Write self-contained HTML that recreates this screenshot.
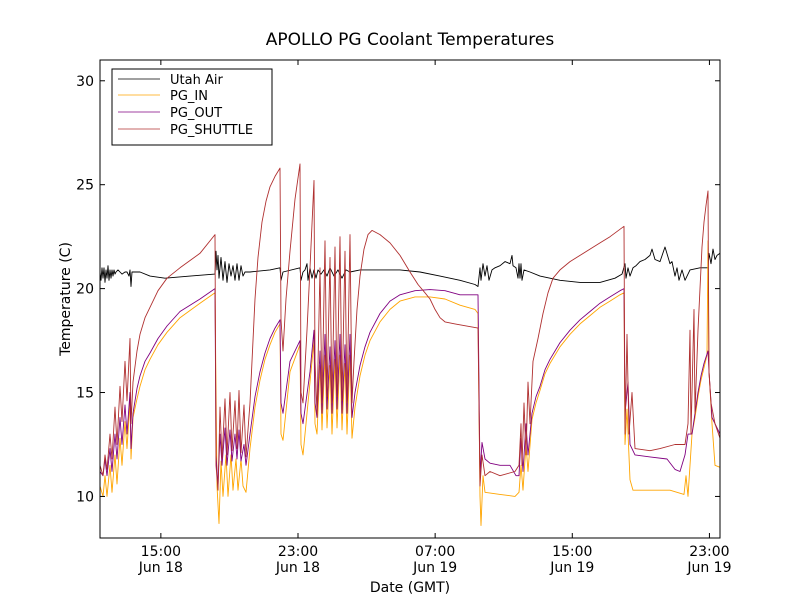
<!DOCTYPE html>
<html><head><meta charset="utf-8"><style>
body{margin:0;background:#fff;}
svg{display:block;font-family:"DejaVu Sans","Liberation Sans",sans-serif;}
</style></head><body>
<svg id="chart" width="800" height="600" viewBox="0 0 800 600">
<rect x="0" y="0" width="800" height="600" fill="#fff"/>
<text x="410" y="45" font-size="17" text-anchor="middle">APOLLO PG Coolant Temperatures</text>
<text x="410" y="592" font-size="14" text-anchor="middle">Date (GMT)</text>
<text transform="translate(70,299) rotate(-90)" font-size="14" text-anchor="middle">Temperature (C)</text>
<g id="series"></g>
<g id="axes"></g>
<g>
<rect x="112" y="69" width="160" height="76" fill="#fff" stroke="#000" stroke-width="1"/>
<line x1="118" y1="79" x2="160" y2="79" stroke="#000" stroke-width="0.8"/>
<text x="170" y="84" font-size="13">Utah Air</text>
<line x1="118" y1="95" x2="160" y2="95" stroke="#ffa500" stroke-width="0.8"/>
<text x="170" y="100" font-size="13">PG_IN</text>
<line x1="118" y1="112" x2="160" y2="112" stroke="#800080" stroke-width="0.8"/>
<text x="170" y="117" font-size="13">PG_OUT</text>
<line x1="118" y1="129" x2="160" y2="129" stroke="#b03030" stroke-width="0.8"/>
<text x="170" y="134" font-size="13">PG_SHUTTLE</text>
</g>
</svg>
<script>
// time in samples (1 sample = 3.5 minutes since 11:27 Jun 18)
const SAMPLE_MIN = 3.5;
const xTickMinutes = [213, 693, 1173, 1653, 2133];
const xTickTimes = ["15:00", "23:00", "07:00", "15:00", "23:00"];
const xTickDays = ["Jun 18", "Jun 18", "Jun 19", "Jun 19", "Jun 19"];
const yTicks = [10, 15, 20, 25, 30];
const utahAir = [[0,20.8],[1,20.4],[2,21.0],[3,20.5],[4,21.0],[5,20.3],[6,20.9],[7,20.5],[8,21.1],[9,20.4],[10,20.9],[11,20.5],[12,20.9],[13,20.6],[14,20.9],[15,20.7],[16,20.8],[18,20.9],[20,20.8],[22,20.7],[25,20.8],[27,20.8],[29,20.6],[30,20.9],[31,20.1],[32,20.8],[35,20.8],[40,20.8],[50,20.6],[65,20.5],[90,20.6],[115,20.7],[116,21.8],[117,20.9],[118,21.6],[119,20.5],[121,21.5],[123,20.4],[125,21.3],[127,20.3],[129,21.2],[131,20.6],[133,21.1],[135,20.4],[137,21.2],[139,20.4],[141,21.1],[143,20.6],[145,20.8],[150,20.8],[170,20.9],[180,21.0],[181,20.4],[183,20.8],[200,21.0],[201,20.4],[203,20.8],[205,20.9],[207,21.2],[208,20.4],[210,21.0],[212,20.5],[214,20.9],[216,20.5],[218,20.9],[221,20.7],[224,20.9],[227,20.6],[230,21.0],[234,20.6],[238,20.9],[242,20.5],[246,20.9],[250,20.8],[260,20.9],[280,20.9],[300,20.9],[320,20.8],[340,20.6],[360,20.4],[375,20.2],[378,20.1],[380,21.0],[381,20.4],[383,21.2],[385,20.6],[387,21.1],[389,20.4],[392,20.9],[395,21.0],[400,21.1],[405,21.3],[410,21.2],[412,21.6],[413,21.1],[416,21.0],[418,20.5],[419,21.2],[420,20.5],[421,21.2],[422,20.4],[424,20.9],[430,20.8],[440,20.6],[460,20.4],[480,20.3],[500,20.3],[515,20.5],[522,20.7],[525,21.2],[526,20.5],[528,21.0],[530,20.6],[533,21.0],[536,21.1],[540,21.3],[545,21.4],[550,21.6],[552,21.9],[555,21.4],[560,21.3],[565,22.0],[570,21.2],[572,21.3],[575,20.6],[577,21.0],[579,20.4],[582,20.9],[585,20.4],[590,20.9],[600,21.0],[608,21.0],[609,21.7],[611,21.2],[613,21.9],[615,21.4],[617,21.6],[620,21.7]];
const pgIn = [[0,10.5],[3,10.0],[5,11.0],[7,10.0],[10,11.5],[12,10.2],[15,12.0],[17,10.6],[20,12.8],[22,11.5],[25,13.6],[27,12.3],[30,14.6],[31,11.8],[33,13.8],[37,14.7],[40,15.3],[45,16.1],[50,16.6],[58,17.3],[67,17.9],[80,18.6],[100,19.3],[115,19.8],[117,10.5],[119,8.7],[121,11.7],[123,10.0],[126,12.0],[128,10.0],[131,12.0],[133,10.3],[136,11.8],[138,10.3],[141,11.8],[143,10.5],[146,10.2],[150,12.3],[155,14.3],[160,15.6],[165,16.6],[170,17.3],[175,17.9],[180,18.3],[181,13.0],[183,12.7],[190,16.0],[200,17.3],[201,12.5],[203,12.0],[210,15.5],[214,17.5],[215,13.5],[217,13.0],[220,16.3],[222,13.2],[225,16.8],[227,13.3],[230,16.3],[232,13.0],[235,16.6],[237,13.3],[240,16.8],[242,13.2],[245,16.4],[247,13.0],[250,16.8],[252,12.8],[255,14.3],[260,15.8],[265,16.8],[270,17.5],[280,18.4],[290,19.0],[300,19.4],[315,19.6],[330,19.6],[345,19.5],[360,19.2],[375,19.0],[378,18.8],[380,10.0],[381,8.6],[383,11.0],[385,10.2],[400,10.1],[415,10.0],[419,10.2],[421,11.5],[423,10.3],[426,12.5],[428,11.2],[432,13.7],[436,14.5],[440,15.1],[445,15.9],[450,16.4],[455,16.8],[460,17.2],[470,17.8],[480,18.3],[490,18.7],[500,19.1],[510,19.4],[520,19.7],[524,19.8],[525,12.5],[527,14.2],[530,10.8],[533,10.3],[550,10.3],[570,10.3],[584,10.1],[586,11.0],[588,10.0],[592,13.0],[595,13.8],[598,14.8],[601,15.6],[604,16.2],[607,16.8],[608,22.3],[609,16.0],[612,13.5],[615,11.5],[620,11.4]];
const pgOut = [[0,11.2],[3,11.0],[5,11.8],[7,11.0],[10,12.3],[12,11.2],[15,13.0],[17,11.8],[20,13.8],[22,12.5],[25,14.4],[27,13.0],[30,15.0],[31,12.3],[33,14.0],[37,15.2],[40,15.8],[45,16.5],[50,16.9],[58,17.6],[67,18.2],[80,18.9],[100,19.5],[115,20.0],[116,12.0],[118,10.5],[120,13.0],[122,11.5],[125,13.3],[127,11.5],[130,13.2],[132,11.7],[135,13.0],[137,11.8],[139,13.2],[141,11.7],[144,12.5],[146,11.5],[150,13.0],[155,14.8],[160,16.0],[165,16.9],[170,17.6],[175,18.1],[180,18.5],[181,14.5],[183,14.0],[190,16.5],[200,17.5],[201,14.0],[203,13.5],[210,16.0],[214,18.0],[215,14.5],[217,13.8],[220,17.0],[222,14.0],[225,17.8],[227,14.2],[230,17.2],[232,14.0],[235,17.5],[237,14.2],[240,17.8],[242,14.0],[245,17.3],[247,14.0],[250,17.8],[252,13.8],[255,15.0],[260,16.3],[265,17.2],[270,17.9],[280,18.8],[290,19.4],[300,19.7],[315,19.9],[330,19.95],[345,19.9],[360,19.7],[378,19.7],[380,11.0],[382,12.6],[385,11.8],[390,11.6],[400,11.5],[410,11.5],[416,11.0],[419,11.0],[421,12.8],[423,11.2],[426,13.5],[428,12.0],[432,14.0],[436,14.8],[440,15.3],[445,16.1],[450,16.6],[455,17.0],[460,17.4],[470,18.0],[480,18.5],[490,18.9],[500,19.3],[510,19.6],[520,19.9],[524,20.0],[525,14.0],[528,15.5],[530,12.5],[535,12.0],[550,11.9],[567,11.8],[575,11.3],[580,11.2],[585,12.0],[588,13.0],[592,13.0],[595,14.0],[598,15.0],[601,15.8],[604,16.4],[608,17.0],[609,16.0],[612,13.8],[620,13.0]];
const pgShuttle = [[0,11.5],[3,11.0],[5,12.0],[7,11.3],[10,13.0],[12,11.8],[15,14.3],[17,12.5],[20,15.3],[22,13.6],[25,16.5],[27,14.6],[30,17.6],[31,13.5],[33,15.5],[37,17.0],[40,17.8],[45,18.6],[50,19.1],[58,19.9],[67,20.5],[80,21.0],[100,21.7],[115,22.6],[116,11.5],[118,10.3],[120,14.3],[122,11.8],[125,14.7],[127,12.0],[130,15.0],[132,12.2],[135,14.6],[137,12.3],[139,15.1],[141,12.1],[144,14.4],[146,11.9],[150,14.5],[152,16.5],[155,19.5],[158,21.5],[162,23.2],[166,24.2],[170,24.9],[175,25.4],[180,25.8],[181,18.5],[183,17.0],[186,19.5],[190,21.8],[195,24.3],[200,26.0],[201,15.0],[203,14.5],[207,18.0],[210,21.0],[214,25.2],[215,16.5],[217,14.0],[220,21.0],[222,14.5],[225,22.3],[227,14.8],[230,21.5],[232,14.5],[235,22.0],[237,14.8],[240,22.5],[242,14.6],[245,21.8],[247,14.5],[250,22.6],[252,14.5],[254,16.5],[257,19.0],[260,20.6],[264,21.9],[268,22.6],[272,22.8],[280,22.6],[290,22.2],[300,21.6],[310,20.8],[318,20.2],[325,19.8],[330,19.5],[335,19.0],[340,18.6],[345,18.4],[355,18.3],[378,18.1],[380,10.5],[382,12.0],[385,11.0],[390,11.2],[400,11.0],[415,11.2],[419,11.5],[421,13.5],[422,11.5],[424,14.5],[426,12.0],[428,15.5],[430,13.5],[433,16.5],[438,17.6],[443,18.8],[448,19.8],[453,20.5],[460,20.9],[470,21.3],[480,21.6],[490,21.9],[500,22.2],[510,22.5],[524,23.0],[525,13.0],[527,17.8],[529,13.0],[532,15.0],[535,12.3],[550,12.2],[560,12.3],[575,12.5],[585,12.5],[588,13.5],[590,18.0],[591,13.0],[594,19.0],[595,14.0],[598,18.0],[600,20.0],[602,22.0],[604,23.2],[606,24.0],[608,24.7],[609,16.0],[611,14.5],[615,13.5],[620,12.8]];

const X0 = 100, X1 = 720, Y0 = 60, Y1 = 538;
const TMIN = 0, TMAX = 2170, VMIN = 8, VMAX = 31;
function xScale(minutes){ return X0 + (minutes - TMIN) / (TMAX - TMIN) * (X1 - X0); }
function yScale(v){ return Y1 - (v - VMIN) / (VMAX - VMIN) * (Y1 - Y0); }
const NS = "http://www.w3.org/2000/svg";
const sg = document.getElementById("series");
function drawSeries(data, color, name){
  const d = data.map((p, i) => (i ? "L" : "M") + xScale(p[0] * SAMPLE_MIN).toFixed(1) + "," + yScale(p[1]).toFixed(1)).join("");
  const path = document.createElementNS(NS, "path");
  path.setAttribute("d", d);
  path.setAttribute("fill", "none");
  path.setAttribute("stroke", color);
  path.setAttribute("stroke-width", "0.9");
  path.setAttribute("stroke-linejoin", "round");
  
  
  sg.appendChild(path);
}
drawSeries(utahAir, "#000", "utah-air-line");
drawSeries(pgIn, "#ffa500", "pg-in-line");
drawSeries(pgOut, "#800080", "pg-out-line");
drawSeries(pgShuttle, "#b03030", "pg-shuttle-line");

const ax = document.getElementById("axes");
function el(tag, attrs){ const e = document.createElementNS(NS, tag); for (const k in attrs) e.setAttribute(k, attrs[k]); ax.appendChild(e); return e; }
const frame = el("rect", {x:X0, y:Y0, width:X1-X0, height:Y1-Y0, fill:"none", stroke:"#000", "stroke-width":1});


yTicks.forEach(v => {
  const y = yScale(v);
  const t1 = el("line", {x1:X0, y1:y, x2:X0+5, y2:y, stroke:"#000"});
  
  
  const t2 = el("line", {x1:X1, y1:y, x2:X1-5, y2:y, stroke:"#000"});
  
  
  const lb = el("text", {x:X0-6, y:y+5, "font-size":14, "text-anchor":"end"});
  lb.textContent = v;
  
  
});
xTickMinutes.forEach((m, i) => {
  const x = xScale(m);
  const t1 = el("line", {x1:x, y1:Y1, x2:x, y2:Y1-5, stroke:"#000"});
  
  
  const t2 = el("line", {x1:x, y1:Y0, x2:x, y2:Y0+5, stroke:"#000"});
  
  
  const lb = el("text", {x:x, y:556, "font-size":14, "text-anchor":"middle"});
  lb.textContent = xTickTimes[i];
  
  
  const lb2 = el("text", {x:x, y:572, "font-size":14, "text-anchor":"middle"});
  lb2.textContent = xTickDays[i];
  
  
});
</script>
</body></html>
